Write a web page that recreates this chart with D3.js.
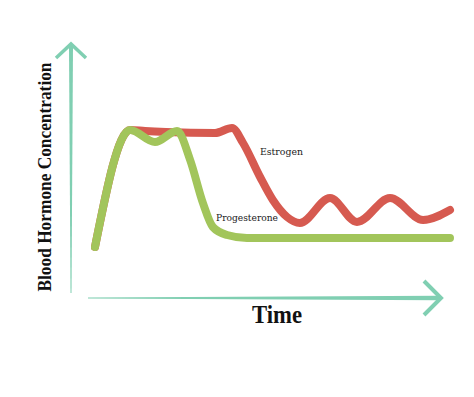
<!DOCTYPE html>
<html>
<head>
<meta charset="utf-8">
<script src="https://cdn.jsdelivr.net/npm/d3@7"></script>
<style>
  body { margin: 0; background: #fff; }
  svg { display: block; }
</style>
</head>
<body>
<svg id="main-svg" width="474" height="397"></svg>
<script>
// time runs 0..100, concentration 0..100 (arbitrary units)
var estrogenTime = [0, 9.9, 14.1, 20, 33.8, 38.6, 41.7, 46.5, 50.1, 54.1, 57.7, 66.2, 73.8, 83.1, 92.4, 100]
var estrogenConc = [2.4, 96, 95.2, 94.4, 93.6, 97.6, 85.6, 58.4, 40, 26.4, 21.6, 41.6, 22.4, 41.6, 24, 32]

var progTime = [0, 9.9, 16.9, 23.1, 26.8, 30.4, 33.2, 37.2, 42.8, 52.1, 100]
var progConc = [2.4, 96, 86.4, 95.2, 72, 37.6, 18.4, 12, 9.6, 9.6, 9.6]

var seriesNames = ['Estrogen', 'Progesterone']
var seriesColors = ['#d65a50', '#a2c55b']
var axisColor = '#80cfb2'
var xLabel = 'Time'
var yLabel = 'Blood Hormone Concentration'

var svg = d3.select('#main-svg')

var x = d3.scaleLinear().domain([0, 100]).range([95, 450])
var y = d3.scaleLinear().domain([0, 100]).range([250, 125])

// tapered arrows for the axes
var yAx = 71, yBottom = 293, yTip = 43
var xAy = 298, xLeft = 88, xTip = 442

svg.append('path')
    .attr('fill', axisColor)
    .attr('d', 'M' + (yAx - 0.5) + ',' + yBottom + ' L' + (yAx + 0.5) + ',' + yBottom +
        ' L' + (yAx + 2) + ',' + (yTip + 3) + ' L' + (yAx - 2) + ',' + (yTip + 3) + 'Z')
svg.append('path')
    .attr('fill', 'none')
    .attr('stroke', axisColor)
    .attr('stroke-width', 3.5)
    .attr('d', 'M' + (yAx - 15) + ',' + (yTip + 15) + ' L' + yAx + ',' + (yTip + 1) + ' L' + (yAx + 15) + ',' + (yTip + 15))

svg.append('path')
    .attr('fill', axisColor)
    .attr('d', 'M' + xLeft + ',' + (xAy - 0.5) + ' L' + xLeft + ',' + (xAy + 0.5) +
        ' L' + (xTip - 3) + ',' + (xAy + 2.2) + ' L' + (xTip - 3) + ',' + (xAy - 2.2) + 'Z')
svg.append('path')
    .attr('fill', 'none')
    .attr('stroke', axisColor)
    .attr('stroke-width', 4)
    .attr('d', 'M' + (xTip - 18) + ',' + (xAy - 17) + ' L' + (xTip - 1) + ',' + xAy + ' L' + (xTip - 18) + ',' + (xAy + 17))

var line = d3.line()
    .x(function(d) { return x(d[0]) })
    .y(function(d) { return y(d[1]) })
    .curve(d3.curveMonotoneX)

var series = [d3.zip(estrogenTime, estrogenConc), d3.zip(progTime, progConc)]

series.forEach(function(s, i) {
    svg.append('path')
        .datum(s)
        .attr('fill', 'none')
        .attr('stroke', seriesColors[i])
        .attr('stroke-width', 8)
        .attr('stroke-linecap', 'round')
        .attr('stroke-linejoin', 'round')
        .attr('d', line)
})

// series labels
svg.append('text')
    .attr('x', 260).attr('y', 155)
    .attr('font-family', 'DejaVu Serif')
    .attr('font-size', 10)
    .attr('fill', '#1a1a1a')
    .attr('textLength', 43).attr('lengthAdjust', 'spacingAndGlyphs')
    .text(seriesNames[0])
svg.append('text')
    .attr('x', 216).attr('y', 221)
    .attr('font-family', 'DejaVu Serif')
    .attr('font-size', 10)
    .attr('fill', '#1a1a1a')
    .attr('textLength', 62).attr('lengthAdjust', 'spacingAndGlyphs')
    .text(seriesNames[1])

// axis titles
svg.append('text')
    .attr('x', 277).attr('y', 323)
    .attr('text-anchor', 'middle')
    .attr('font-family', 'Liberation Serif')
    .attr('font-weight', 'bold')
    .attr('font-size', 26)
    .attr('fill', '#111')
    .attr('textLength', 50).attr('lengthAdjust', 'spacingAndGlyphs')
    .text(xLabel)

svg.append('text')
    .attr('transform', 'translate(51,177) rotate(-90)')
    .attr('text-anchor', 'middle')
    .attr('font-family', 'Liberation Serif')
    .attr('font-weight', 'bold')
    .attr('font-size', 18)
    .attr('fill', '#111')
    .attr('textLength', 229).attr('lengthAdjust', 'spacingAndGlyphs')
    .text(yLabel)
</script>
</body>
</html>
